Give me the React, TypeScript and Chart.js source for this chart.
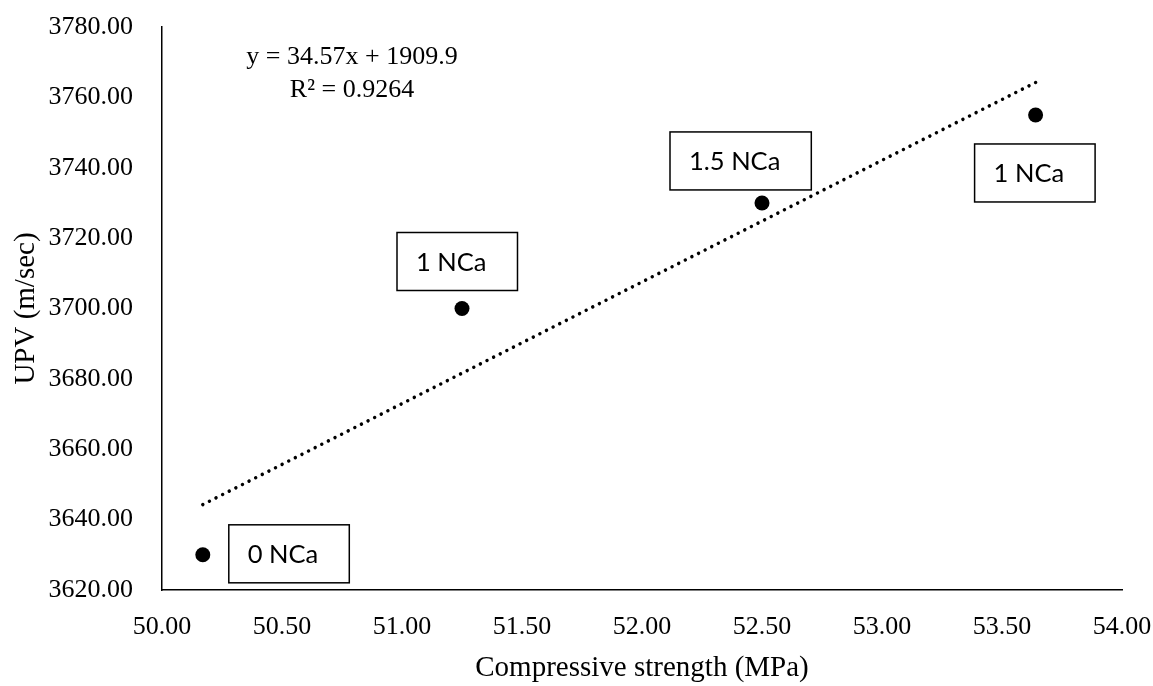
import React, { useEffect, useRef } from 'react';
import { Chart, registerables } from 'chart.js';

Chart.register(...registerables);

// ---- data ----
const strengthValues = [50.17, 51.25, 52.5, 53.64]; // Compressive strength (MPa)
const upvValues = [3630, 3700, 3730, 3755]; // UPV (m/sec)
const pointLabels = ['0 NCa', '1 NCa', '1.5 NCa', '1 NCa'];

// linear trendline as printed on the chart
const trendSlope = 34.57;
const trendIntercept = 1909.9;
const trendEquation = ['y = 34.57x + 1909.9', 'R\u00B2 = 0.9264'];

// axis ranges / ticks
const xAxisRange = [50, 54];
const xTickStep = 0.5;
const yAxisRange = [3620, 3780];
const yTickStep = 20;

// label box placement (pixel offsets of each box's top-left from its point)
const labelBoxOffsets = [
  [26, -30],
  [-65, -76],
  [-92, -71],
  [-61, 29],
];

const SERIF = "'Liberation Serif', 'Times New Roman', serif";
const SANS = "Lato, 'Open Sans', sans-serif";

export default function App() {
  const ref = useRef<HTMLCanvasElement>(null);

  useEffect(() => {
    const canvas = ref.current;
    if (!canvas) return;

    const trendX = [strengthValues[0], strengthValues[strengthValues.length - 1]];

    const annotations = {
      id: 'annotations',
      afterDatasetsDraw(chart: any) {
        const ctx = chart.ctx as CanvasRenderingContext2D;
        const xs = chart.scales.x;
        const ys = chart.scales.y;
        const area = chart.chartArea;
        ctx.save();
        // point label boxes
        ctx.font = `25.5px ${SANS}`;
        ctx.textBaseline = 'middle';
        ctx.textAlign = 'left';
        const boxH = 58;
        pointLabels.forEach((lab, i) => {
          const px = xs.getPixelForValue(strengthValues[i]);
          const py = ys.getPixelForValue(upvValues[i]);
          const [dx, dy] = labelBoxOffsets[i];
          const w = ctx.measureText(lab).width + 50;
          const bx = px + dx;
          const by = py + dy;
          ctx.fillStyle = '#fff';
          ctx.fillRect(bx, by, w, boxH);
          ctx.strokeStyle = '#000';
          ctx.lineWidth = 1.5;
          ctx.strokeRect(bx, by, w, boxH);
          ctx.fillStyle = '#000';
          ctx.fillText(lab, bx + 19, by + boxH / 2 + 1);
        });
        // trendline equation
        ctx.font = `26px ${SERIF}`;
        ctx.textAlign = 'center';
        ctx.fillStyle = '#000';
        ctx.fillText(trendEquation[0], area.left + 190, area.top + 30);
        ctx.fillText(trendEquation[1], area.left + 190, area.top + 63);
        ctx.restore();
      },
    };

    const chart = new Chart(canvas, {
      type: 'scatter',
      data: {
        datasets: [
          {
            label: 'UPV',
            data: strengthValues.map((x, i) => ({ x, y: upvValues[i] })),
            pointRadius: 7.5,
            pointBackgroundColor: '#000',
            pointBorderWidth: 0,
            showLine: false,
          },
          {
            label: 'Linear trend',
            data: trendX.map((x) => ({ x, y: trendSlope * x + trendIntercept })),
            showLine: true,
            borderColor: '#000',
            borderWidth: 3.5,
            borderDash: [0.01, 7.4],
            borderCapStyle: 'round',
            pointRadius: 0,
            fill: false,
          },
        ],
      },
      options: {
        responsive: false,
        animation: false,
        events: [],
        layout: { padding: { left: 0, right: 31, top: 27, bottom: 0 } },
        plugins: {
          legend: { display: false },
          tooltip: { enabled: false },
        },
        scales: {
          x: {
            type: 'linear',
            min: xAxisRange[0],
            max: xAxisRange[1],
            grid: { display: false, drawTicks: false },
            border: { display: true, color: '#000', width: 1.5 },
            ticks: {
              stepSize: xTickStep,
              autoSkip: false,
              maxRotation: 0,
              padding: 22,
              color: '#000',
              font: { family: SERIF, size: 26, lineHeight: 1.2 },
              callback: (v: any) => Number(v).toFixed(2),
            },
            title: {
              display: true,
              text: 'Compressive strength (MPa)',
              color: '#000',
              font: { family: SERIF, size: 29, lineHeight: 1.2 },
              padding: { top: 0, bottom: 0 },
            },
            afterFit: (s: any) => {
              s.height = 96;
              s.paddingLeft = 0;
              s.paddingRight = 0;
            },
          },
          y: {
            type: 'linear',
            min: yAxisRange[0],
            max: yAxisRange[1],
            grid: { display: false, drawTicks: false },
            border: { display: true, color: '#000', width: 1.5 },
            ticks: {
              stepSize: yTickStep,
              autoSkip: false,
              padding: 29,
              color: '#000',
              font: { family: SERIF, size: 26, lineHeight: 1.2 },
              callback: (v: any) => Number(v).toFixed(2),
            },
            title: {
              display: true,
              text: 'UPV (m/sec)',
              color: '#000',
              font: { family: SERIF, size: 29, lineHeight: 1.2 },
              padding: { top: 9, bottom: 0 },
            },
            afterFit: (s: any) => {
              s.width = 162;
              s.paddingTop = 0;
              s.paddingBottom = 0;
            },
          },
        },
      } as any,
      plugins: [annotations],
    });

    return () => chart.destroy();
  }, []);

  return (
    <div style={{ position: 'fixed', left: 0, top: 0, width: 1153, height: 686, background: '#fff' }}>
      <canvas ref={ref} width={1153} height={686} style={{ display: 'block' }} />
    </div>
  );
}
